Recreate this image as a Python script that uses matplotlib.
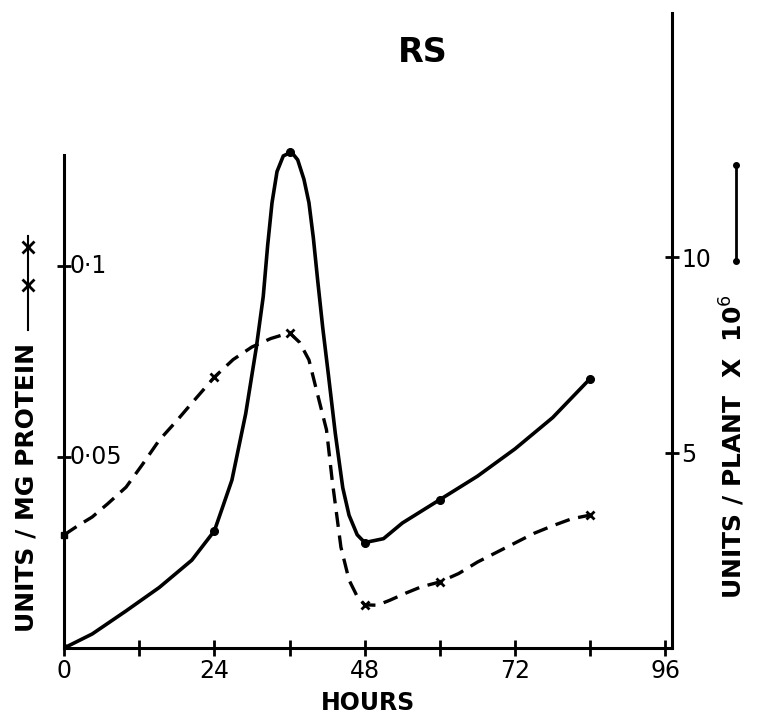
import matplotlib
matplotlib.use('Agg')
import matplotlib.pyplot as plt
from matplotlib.lines import Line2D

plt.rcParams['font.family'] = ['DejaVu Sans']

# measured points (marked on the curves)
hours = [0, 24, 36, 48, 60, 84]
per_plant = [0, 3.0, 12.7, 2.7, 3.8, 6.9]             # units / plant x 10^6
per_mg = [0.0296, 0.0709, 0.0825, 0.0113, 0.0173, 0.0348]  # units / mg protein

# curve traces
plant_t = [0, 4.5, 9.9, 15.2, 20.4, 24, 25.3, 26.8, 29, 30.7, 31.8, 32.5, 33.2,
           34.0, 35.0, 36.3, 37.3, 38.3, 39.1, 39.8, 40.5, 41.3, 42.2, 43.3,
           44.5, 45.5, 46.8, 48, 51, 54, 57, 60, 66, 72, 78, 84]
plant_v = [0, 0.36, 0.95, 1.55, 2.25, 3.0, 3.6, 4.3, 6.0, 7.7, 9.0, 10.3, 11.4,
           12.2, 12.6, 12.7, 12.5, 12.0, 11.4, 10.5, 9.4, 8.2, 7.0, 5.5,
           4.1, 3.4, 2.9, 2.7, 2.8, 3.2, 3.5, 3.8, 4.4, 5.1, 5.9, 6.9]
mg_t = [0, 2.2, 4.5, 7, 9.9, 12.5, 15.2, 18, 20.4, 24, 27, 30, 33, 36, 37.6,
        39.1, 40.3, 41.9, 42.8, 44.2, 45.5, 46.8, 48, 50, 52, 54.6, 57, 60,
        63, 66, 69, 72, 75, 78, 81, 84]
mg_v = [0.0296, 0.032, 0.0343, 0.0378, 0.0421, 0.048, 0.0544, 0.0595, 0.0641,
        0.0709, 0.0755, 0.0788, 0.081, 0.0825, 0.080, 0.0754, 0.0675, 0.0571,
        0.044, 0.0264, 0.0178, 0.0135, 0.0113, 0.0112, 0.0125, 0.0144, 0.016,
        0.0173, 0.0195, 0.0225, 0.025, 0.0275, 0.030, 0.032, 0.0338, 0.0348]

fig = plt.figure(figsize=(7.65, 7.26), dpi=100)
ax = fig.add_axes([0.0837, 0.1074, 0.7943, 0.8747])
ax2 = ax.twinx()

ax2.plot(plant_t, plant_v, color='black', lw=2.6, solid_capstyle='round',
         solid_joinstyle='round')
ax2.plot(hours, per_plant, 'o', color='black', ms=5.5)
ax.plot(mg_t, mg_v, color='black', lw=2.4, dashes=(4.5, 2.6))
ax.plot(hours[1:], per_mg[1:], 'x', color='black', ms=6, mew=2)
ax.plot(hours[:1], per_mg[:1], 's', color='black', ms=5, clip_on=False)

ax.set_xlim(0, 97)
ax.set_ylim(0, 0.1662)
ax2.set_ylim(0, 16.26)

for a in (ax, ax2):
    a.spines['top'].set_visible(False)
    for s in a.spines.values():
        s.set_linewidth(2.2)
ax.spines['right'].set_visible(False)
ax2.spines['left'].set_visible(False)
ax2.spines['bottom'].set_visible(False)
ax.spines['left'].set_bounds(0, 0.129)

ax.set_xticks(range(0, 97, 12))
ax.set_xticklabels([str(h) if h % 24 == 0 else '' for h in range(0, 97, 12)])
ax.tick_params(axis='x', direction='inout', length=12, width=2, labelsize=17, pad=2)
ax.set_yticks([0.05, 0.1])
ax.set_yticklabels([])
ax.tick_params(axis='y', direction='inout', length=10, width=2)
for v, s in [(0.05, '0·05'), (0.1, '0·1')]:
    ax.text(0.8, v, s, fontsize=17, va='center', ha='left')

ax2.set_yticks([5, 10])
ax2.set_yticklabels(['5', '10'])
ax2.tick_params(axis='y', direction='inout', length=10, width=2, labelsize=17, pad=2)

ax.set_xlabel('HOURS', fontsize=17, fontweight='bold', labelpad=6)

fig.text(0.553, 0.928, 'RS', fontsize=24, fontweight='bold', ha='center', va='center')

# axis titles with their line keys
fig.text(0.034, 0.329, 'UNITS / MG PROTEIN', rotation=90, fontsize=18,
         fontweight='bold', ha='center', va='center')
fig.add_artist(Line2D([0.036, 0.036], [0.545, 0.675], color='black', lw=1.5))
fig.add_artist(Line2D([0.036, 0.036], [0.607, 0.66], color='black', lw=0,
                      marker='x', ms=8, mew=2))
fig.text(0.958, 0.385, 'UNITS / PLANT  X  10$^{6}$', rotation=90, fontsize=18,
         fontweight='bold', ha='center', va='center')
fig.add_artist(Line2D([0.962, 0.962], [0.64, 0.773], color='black', lw=2))
fig.add_artist(Line2D([0.962, 0.962], [0.64, 0.773], color='black', lw=0,
                      marker='o', ms=4))

fig.savefig('out.png', dpi=100)
